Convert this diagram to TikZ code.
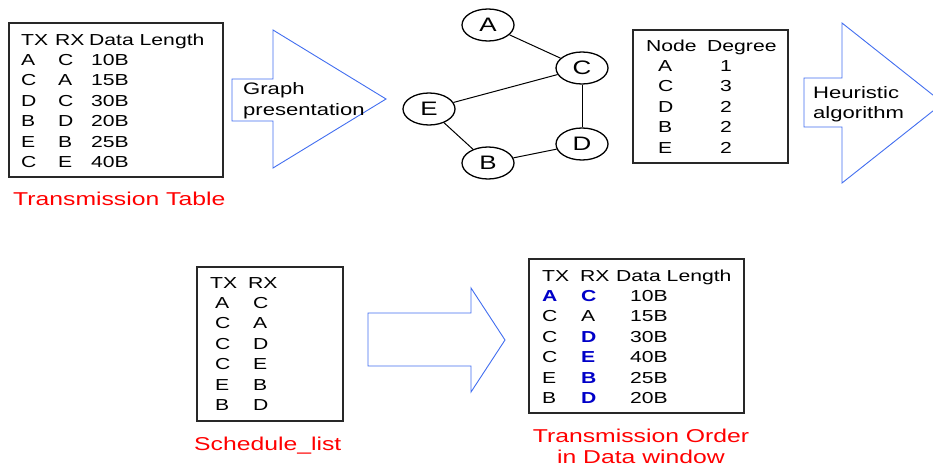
\documentclass[tikz,border=0pt]{standalone}
\usepackage{fontspec}
\setmainfont{Liberation Sans}[FakeStretch=1.33]
\usepackage{tikz}
\usetikzlibrary{shapes.geometric}
\usepackage{xcolor}
\definecolor{arrowblue}{RGB}{66,110,240}
\definecolor{hlblue}{RGB}{0,0,200}
\definecolor{capred}{RGB}{255,0,0}
\definecolor{framegray}{RGB}{40,40,40}
\newcommand{\hiblue}[1]{\textbf{\color{hlblue}#1}}

\begin{document}
\begin{tikzpicture}[x=1pt, y=-1pt,
		tablebox/.style={draw=framegray, line width=1.2pt, inner sep=0pt},
		tabletext/.style={anchor=base west, inner sep=0pt, font=\fontsize{15.9}{20.4}\selectfont},
		caption/.style={text=capred, inner sep=0pt, font=\fontsize{18.6}{21}\selectfont},
		blockarrow/.style={draw=arrowblue, line width=0.9pt, fill=white, line join=miter},
		arrowlabel/.style={anchor=north west, align=left, inner sep=0pt},
		vertex/.style={ellipse, draw=black, line width=1.3pt, minimum width=52pt, minimum height=32pt, inner sep=0pt, font=\fontsize{19.5}{19.5}\selectfont},
		graphedge/.style={line width=1pt}
	]
	\useasboundingbox (0,0) rectangle (933,471);

	% --- Transmission table (top left) ---
	\node[tablebox, minimum width=214pt, minimum height=154pt] (tt_box) at (116,100) {};
	\node[tabletext] (tt_tab) at (21,45) {\begin{tabular}[t]{@{}p{34pt}@{}p{34pt}@{}l@{}}
			TX & RX & Data Length\\
			A & \hspace{3pt}C & \hspace{2pt}10B\\
			C & \hspace{3pt}A & \hspace{2pt}15B\\
			D & \hspace{3pt}C & \hspace{2pt}30B\\
			B & \hspace{3pt}D & \hspace{2pt}20B\\
			E & \hspace{3pt}B & \hspace{2pt}25B\\
			C & \hspace{3pt}E & \hspace{2pt}40B
		\end{tabular}};
	\node[caption, anchor=base west] (tt_caption) at (13,205) {Transmission Table};

	% --- Graph presentation arrow ---
	\draw[blockarrow] (232,79) -- (273,79) -- (273,30) -- (386,99) -- (273,168) -- (273,121) -- (232,121) -- cycle;
	\node[arrowlabel, font=\fontsize{16.6}{21}\selectfont] (gp_label) at (243,82) {Graph\\presentation};

	% --- Graph ---
	\node[vertex] (v_a) at (488,25) {A};
	\node[vertex] (v_c) at (582,68) {C};
	\node[vertex] (v_e) at (429,109) {E};
	\node[vertex] (v_d) at (582,144) {D};
	\node[vertex] (v_b) at (488,163) {B};

	\draw[graphedge] (v_a) -- (v_c);
	\draw[graphedge] (v_c) -- (v_e);
	\draw[graphedge] (v_c) -- (v_d);
	\draw[graphedge] (v_e) -- (v_b);
	\draw[graphedge] (v_b) -- (v_d);

	% --- Node degree table ---
	\node[tablebox, minimum width=155pt, minimum height=133pt] (nd_box) at (710.5,96.5) {};
	\node[tabletext] (nd_tab) at (646,51) {\begin{tabular}[t]{@{}p{61pt}@{}l@{}}
			Node & Degree\\
			\hspace{12pt}A & \hspace{13pt}1\\
			\hspace{12pt}C & \hspace{13pt}3\\
			\hspace{12pt}D & \hspace{13pt}2\\
			\hspace{12pt}B & \hspace{13pt}2\\
			\hspace{12pt}E & \hspace{13pt}2
		\end{tabular}};

	% --- Heuristic algorithm arrow ---
	\draw[blockarrow] (804,78) -- (842,78) -- (842,23) -- (943,103) -- (842,183) -- (842,127) -- (804,127) -- cycle;
	\node[arrowlabel, font=\fontsize{16.6}{19.5}\selectfont] (ha_label) at (813,86.3) {Heuristic\\algorithm};

	% --- Schedule list ---
	\node[tablebox, minimum width=146pt, minimum height=154pt] (sl_box) at (270,344) {};
	\node[tabletext] (sl_tab) at (210,288) {\begin{tabular}[t]{@{}p{38pt}@{}l@{}}
			TX & RX\\
			\hspace{5pt}A & \hspace{5pt}C\\
			\hspace{5pt}C & \hspace{5pt}A\\
			\hspace{5pt}C & \hspace{5pt}D\\
			\hspace{5pt}C & \hspace{5pt}E\\
			\hspace{5pt}E & \hspace{5pt}B\\
			\hspace{5pt}B & \hspace{5pt}D
		\end{tabular}};
	\node[caption, anchor=base west] (sl_caption) at (194,450) {Schedule\_list};

	% --- Middle arrow ---
	\draw[blockarrow] (368,313) -- (471,313) -- (471,288) -- (505,340) -- (471,392) -- (471,366) -- (368,366) -- cycle;

	% --- Transmission order ---
	\node[tablebox, minimum width=215pt, minimum height=154pt] (to_box) at (636.5,336) {};
	\node[tabletext] (to_tab) at (542,281) {\begin{tabular}[t]{@{}p{38pt}@{}p{36pt}@{}l@{}}
			TX & RX & Data Length\\
			\hiblue{A} & \hspace{1pt}\hiblue{C} & \hspace{14pt}10B\\
			C & \hspace{1pt}A & \hspace{14pt}15B\\
			C & \hspace{1pt}\hiblue{D} & \hspace{14pt}30B\\
			C & \hspace{1pt}\hiblue{E} & \hspace{14pt}40B\\
			E & \hspace{1pt}\hiblue{B} & \hspace{14pt}25B\\
			B & \hspace{1pt}\hiblue{D} & \hspace{14pt}20B
		\end{tabular}};
	\node[caption, anchor=north, align=center] (to_caption) at (641,429) {Transmission Order\\in Data window};

\end{tikzpicture}
\end{document}
